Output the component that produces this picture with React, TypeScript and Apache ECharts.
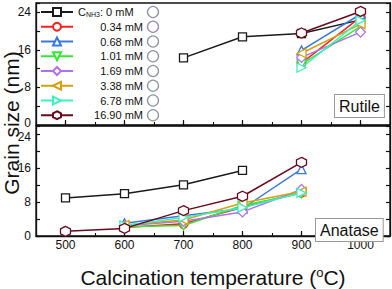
import React, { useEffect, useRef } from 'react';
import * as echarts from 'echarts';

const temps = [500, 600, 700, 800, 900, 1000];
const seriesNames = ['C_NH3: 0 mM', '0.34 mM', '0.68 mM', '1.01 mM', '1.69 mM', '3.38 mM', '6.78 mM', '16.90 mM'];
const xTicks = [500, 600, 700, 800, 900, 1000];
const yTickLabels = [0, 8, 16, 24];

// Rutile grain size (nm), aligned with temps; null = not measured
const rutile0 = [null, null, 14.3, 18.8, 19.5, 22.4];
const rutile034 = [null, null, null, null, 13.2, 23.0];
const rutile068 = [null, null, null, null, 15.9, 23.6];
const rutile101 = [null, null, null, null, 12.9, 21.0];
const rutile169 = [null, null, null, null, 14.4, 19.8];
const rutile338 = [null, null, null, null, 15.3, 21.5];
const rutile678 = [null, null, null, null, 12.2, 22.3];
const rutile1690 = [null, null, null, null, 19.6, 24.2];

// Anatase grain size (nm)
const anatase0 = [9.0, 10.0, 12.1, 15.5, null, null];
const anatase034 = [null, 2.0, 2.9, 6.8, 10.3, null];
const anatase068 = [null, 3.0, 4.8, 6.5, 15.8, null];
const anatase101 = [null, 2.2, 2.5, 7.2, 10.1, null];
const anatase169 = [null, 2.4, 3.5, 5.7, 11.0, null];
const anatase338 = [null, 2.6, 3.8, 7.8, 10.5, null];
const anatase678 = [null, 2.5, 4.4, 6.7, 10.2, null];
const anatase1690 = [1.1, 1.8, 6.0, 9.4, 17.4, null];

const rutileData = [rutile0, rutile034, rutile068, rutile101, rutile169, rutile338, rutile678, rutile1690];
const anataseData = [anatase0, anatase034, anatase068, anatase101, anatase169, anatase338, anatase678, anatase1690];

const colors = ['#1a1a1a', '#ff2020', '#3a78e0', '#33e833', '#b070f0', '#d4a010', '#3ef0c0', '#6a0a1e'];
const hexagon = 'path://M0,-10 L8.66,-5 L8.66,5 L0,10 L-8.66,5 L-8.66,-5 Z';
const symbols = ['rect', 'circle', 'triangle', 'triangle', 'diamond', 'triangle', 'triangle', hexagon];
const rotations = [0, 0, 0, 180, 0, 90, -90, 0];
const sizes = [8, 9, 9, 9, 10, 9, 9, 10];

const FONT = '"Liberation Sans", Arial, sans-serif';

export default function App() {
  const ref = useRef<HTMLDivElement>(null);
  useEffect(() => {
    document.body.style.margin = '0';
    const chart = echarts.init(ref.current!, null, { renderer: 'svg' });

    const toPairs = (vals: (number | null)[]) =>
      temps.map((t, i) => (vals[i] == null ? null : [t, vals[i]])).filter((p) => p !== null);

    const mkSeries = (vals: (number | null)[], i: number, panel: number) => ({
      type: 'line',
      name: seriesNames[i],
      xAxisIndex: panel === 0 ? 0 : 2,
      yAxisIndex: panel === 0 ? 0 : 2,
      data: toPairs(vals),
      symbol: symbols[i],
      symbolRotate: rotations[i],
      symbolSize: sizes[i],
      showAllSymbol: true,
      z: 2 + i,
      lineStyle: { color: colors[i], width: 1.5 },
      itemStyle: { color: '#ffffff', borderColor: colors[i], borderWidth: 1.3 },
      emphasis: { disabled: true },
    });

    const series: any[] = [];
    rutileData.forEach((v, i) => series.push(mkSeries(v, i, 0)));
    anataseData.forEach((v, i) => series.push(mkSeries(v, i, 1)));

    const axisLine = { show: true, lineStyle: { color: '#111', width: 1.3 } };

    const mainX = (grid: number, labels: boolean) => ({
      type: 'value',
      gridIndex: grid,
      min: 450,
      max: 1050,
      position: 'bottom',
      axisLine,
      splitLine: { show: false },
      axisTick: { show: true, inside: true, length: 5, customValues: xTicks, lineStyle: { color: '#111', width: 1.2 } },
      axisLabel: labels
        ? {
            show: true,
            customValues: xTicks,
            fontSize: 12,
            color: '#111',
            margin: 3,
            fontFamily: FONT,
            formatter: (v: number) => String(v),
          }
        : { show: false },
    });
    const minorX = (grid: number) => ({
      type: 'value',
      gridIndex: grid,
      min: 450,
      max: 1050,
      interval: 50,
      position: 'bottom',
      axisLine: { show: false },
      splitLine: { show: false },
      axisTick: { show: true, inside: true, length: 3, lineStyle: { color: '#111', width: 1.1 } },
      axisLabel: { show: false },
    });
    const yAx = (grid: number, pos: string, labels: boolean) => ({
      type: 'value',
      gridIndex: grid,
      min: 0,
      max: 26,
      interval: 4,
      position: pos,
      axisLine,
      splitLine: { show: false },
      axisTick: { show: true, inside: true, length: 4, lineStyle: { color: '#111', width: 1.2 } },
      axisLabel: labels
        ? {
            show: true,
            fontSize: 12,
            color: '#111',
            margin: 5,
            fontFamily: FONT,
            formatter: (v: number) => {
              if (yTickLabels.indexOf(v) < 0) return '';
              if (grid === 0 && v === 0) return '{lo|0}';
              if (grid === 1 && v === 24) return '{hi|24}';
              return String(v);
            },
            rich: {
              lo: { fontSize: 12, color: '#111', fontFamily: FONT, padding: [0, 0, 5, 0] },
              hi: { fontSize: 12, color: '#111', fontFamily: FONT, padding: [5, 0, 0, 0] },
            },
          }
        : { show: false },
    });

    const xAxis: any[] = [mainX(0, false), minorX(0), mainX(1, true), minorX(1)];
    (xAxis[2] as any).name = 'Calcination temperature ({s|o}C)';
    (xAxis[2] as any).nameLocation = 'middle';
    (xAxis[2] as any).nameGap = 30;
    (xAxis[2] as any).nameTextStyle = {
      fontSize: 21,
      color: '#111',
      fontFamily: FONT,
      lineHeight: 22,
      rich: {
        s: { fontSize: 13, lineHeight: 13, verticalAlign: 'top', color: '#111', fontFamily: FONT },
      },
    };

    const yAxis: any[] = [yAx(0, 'left', true), yAx(0, 'right', false), yAx(1, 'left', true), yAx(1, 'right', false)];

    const graphic: any[] = [];
    seriesNames.forEach((_, i) => {
      graphic.push({
        type: 'circle',
        shape: { cx: 153, cy: 12 + i * 14.75, r: 5.5 },
        style: { fill: '#fff', stroke: i === 1 ? '#9a86b8' : '#8e94a4', lineWidth: 1.3 },
        z: 10,
      });
    });
    graphic.push({
      type: 'text',
      x: 335,
      y: 95,
      z: 10,
      style: {
        text: 'Rutile',
        font: `16px ${FONT}`,
        fill: '#111',
        backgroundColor: '#fff',
        borderColor: '#999',
        borderWidth: 1,
        padding: [3, 4, 3, 4],
      },
    });
    graphic.push({
      type: 'text',
      x: 316,
      y: 219,
      z: 10,
      style: {
        text: 'Anatase',
        font: `16px ${FONT}`,
        fill: '#111',
        backgroundColor: '#fff',
        borderColor: '#999',
        borderWidth: 1,
        padding: [3, 4, 3, 4],
      },
    });
    graphic.push({
      type: 'text',
      x: 11,
      y: 123,
      rotation: Math.PI / 2,
      z: 10,
      style: {
        text: 'Grain size (nm)',
        font: `21px ${FONT}`,
        fill: '#111',
        textAlign: 'center',
        textVerticalAlign: 'middle',
      },
    });

    chart.setOption({
      animation: false,
      textStyle: { fontFamily: FONT },
      grid: [
        { left: 36, top: 3, right: 2, height: 122, show: true, borderColor: '#111', borderWidth: 1.3, backgroundColor: 'transparent' },
        { left: 36, top: 126, right: 2, height: 123, show: true, borderColor: '#111', borderWidth: 1.3, backgroundColor: 'transparent' },
      ],
      xAxis,
      yAxis,
      legend: {
        data: seriesNames,
        orient: 'vertical',
        left: 40,
        top: 6,
        itemWidth: 32,
        itemHeight: 10,
        itemGap: 2.75,
        selectedMode: false,
        padding: 0,
        formatter: (name: string) =>
          name === seriesNames[0] ? '{c|C}{sub|NH3}{c|: 0 mM}' : '{r|' + name + '}',
        textStyle: {
          fontSize: 11,
          lineHeight: 12,
          color: '#111',
          fontFamily: FONT,
          rich: {
            c: { fontSize: 11, lineHeight: 12, color: '#111', fontFamily: FONT },
            sub: { fontSize: 7, lineHeight: 8, verticalAlign: 'bottom', color: '#111', fontFamily: FONT },
            r: { fontSize: 11, lineHeight: 12, width: 65, align: 'right', color: '#111', fontFamily: FONT },
          },
        },
      },
      graphic,
      series,
    });
    return () => chart.dispose();
  }, []);
  return <div ref={ref} style={{ width: 392, height: 289 }} />;
}
